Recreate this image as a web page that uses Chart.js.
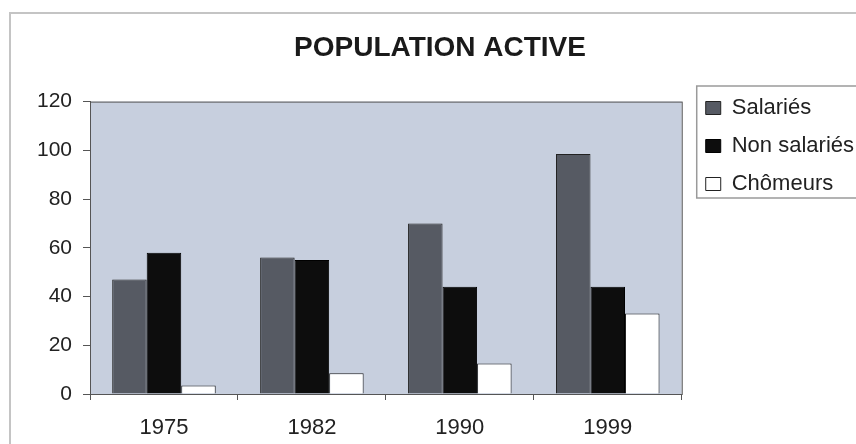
<!DOCTYPE html>
<html lang="fr">
<head>
  <meta charset="UTF-8">
  <title>Population active</title>
  <script src="https://cdn.jsdelivr.net/npm/chart.js"></script>
  <style>
    body { margin: 0; background: #fff; font-family: 'Liberation Sans', Arial, sans-serif; }
    .wrap { position: relative; width: 856px; height: 444px; }
  </style>
</head>
<body>
  <div class="wrap"><canvas id="popChart"></canvas></div>

  <script>
    const years = ['1975', '1982', '1990', '1999'];
    const salaries = [47, 56, 70, 98.5];
    const nonSalaries = [58, 55, 44, 44];
    const chomeurs = [3.5, 8.5, 12.5, 33];
    const yMin = 0, yMax = 120, yStep = 20;

    const FONT = "'Liberation Sans', Arial, sans-serif";

    // plot background, outer frame and legend frame
    const frames = {
      id: 'frames',
      afterLayout(chart) {
        const lg = chart.legend;
        const h = lg.bottom - lg.top;
        lg.top = 81;
        lg.bottom = lg.top + h;
        lg.left += 8;
        lg.right += 8;
      },
      beforeDraw(chart) {
        const { ctx, chartArea: a } = chart;
        ctx.save();
        ctx.strokeStyle = '#c4c4c4';
        ctx.lineWidth = 2;
        ctx.strokeRect(10, 13, 900, 500);
        ctx.fillStyle = '#c7cfde';
        ctx.fillRect(a.left, a.top, a.right - a.left, a.bottom - a.top);
        ctx.restore();
      },
      afterDatasetsDraw(chart) {
        const { ctx, chartArea: a } = chart;
        ctx.save();
        ctx.strokeStyle = '#555';
        ctx.lineWidth = 1;
        ctx.strokeRect(a.left + 0.5, a.top + 0.5, a.right - a.left, a.bottom - a.top);
        ctx.restore();
      },
      afterDraw(chart) {
        const { ctx } = chart;
        const lg = chart.legend;
        ctx.save();
        ctx.strokeStyle = '#9a9a9a';
        ctx.lineWidth = 1.5;
        ctx.strokeRect(lg.left + 7, lg.top + 5, 300, 112);
        ctx.restore();
      }
    };

    new Chart(document.getElementById('popChart'), {
      type: 'bar',
      data: {
        labels: years,
        datasets: [
          { label: 'Salariés', data: salaries, backgroundColor: '#565a63', borderColor: '#222', borderWidth: 1 },
          { label: 'Non salariés', data: nonSalaries, backgroundColor: '#0d0d0d', borderColor: '#000', borderWidth: 1 },
          { label: 'Chômeurs', data: chomeurs, backgroundColor: '#ffffff', borderColor: '#222', borderWidth: 1 }
        ]
      },
      options: {
        responsive: true,
        maintainAspectRatio: false,
        animation: false,
        layout: { padding: { left: 24, right: 0, top: 0, bottom: 0 } },
        datasets: { bar: { categoryPercentage: 0.7, barPercentage: 1.0 } },
        plugins: {
          tooltip: { enabled: false },
          title: {
            display: true,
            text: 'POPULATION ACTIVE',
            color: '#1a1a1a',
            font: { family: FONT, size: 28, weight: 'bold' },
            padding: { top: 31, bottom: 37 }
          },
          legend: {
            position: 'right',
            align: 'start',
            fullSize: false,
            labels: {
              color: '#222',
              font: { family: FONT, size: 22 },
              boxWidth: 15,
              boxHeight: 13,
              padding: 16
            }
          }
        },
        scales: {
          x: {
            grid: { offset: true, drawOnChartArea: false, drawTicks: true, tickLength: 6, color: '#555' },
            border: { display: true, color: '#555' },
            ticks: { color: '#222', font: { family: FONT, size: 22 }, padding: 15 },
            afterFit(scale) { scale.height = 50; }
          },
          y: {
            min: yMin,
            max: yMax,
            grid: { drawOnChartArea: false, drawTicks: true, tickLength: 7, color: '#555' },
            border: { display: true, color: '#555' },
            ticks: { stepSize: yStep, color: '#222', font: { family: FONT, size: 21 }, padding: 11 },
            afterFit(scale) { scale.width = 66; }
          }
        }
      },
      plugins: [frames]
    });
  </script>
</body>
</html>
